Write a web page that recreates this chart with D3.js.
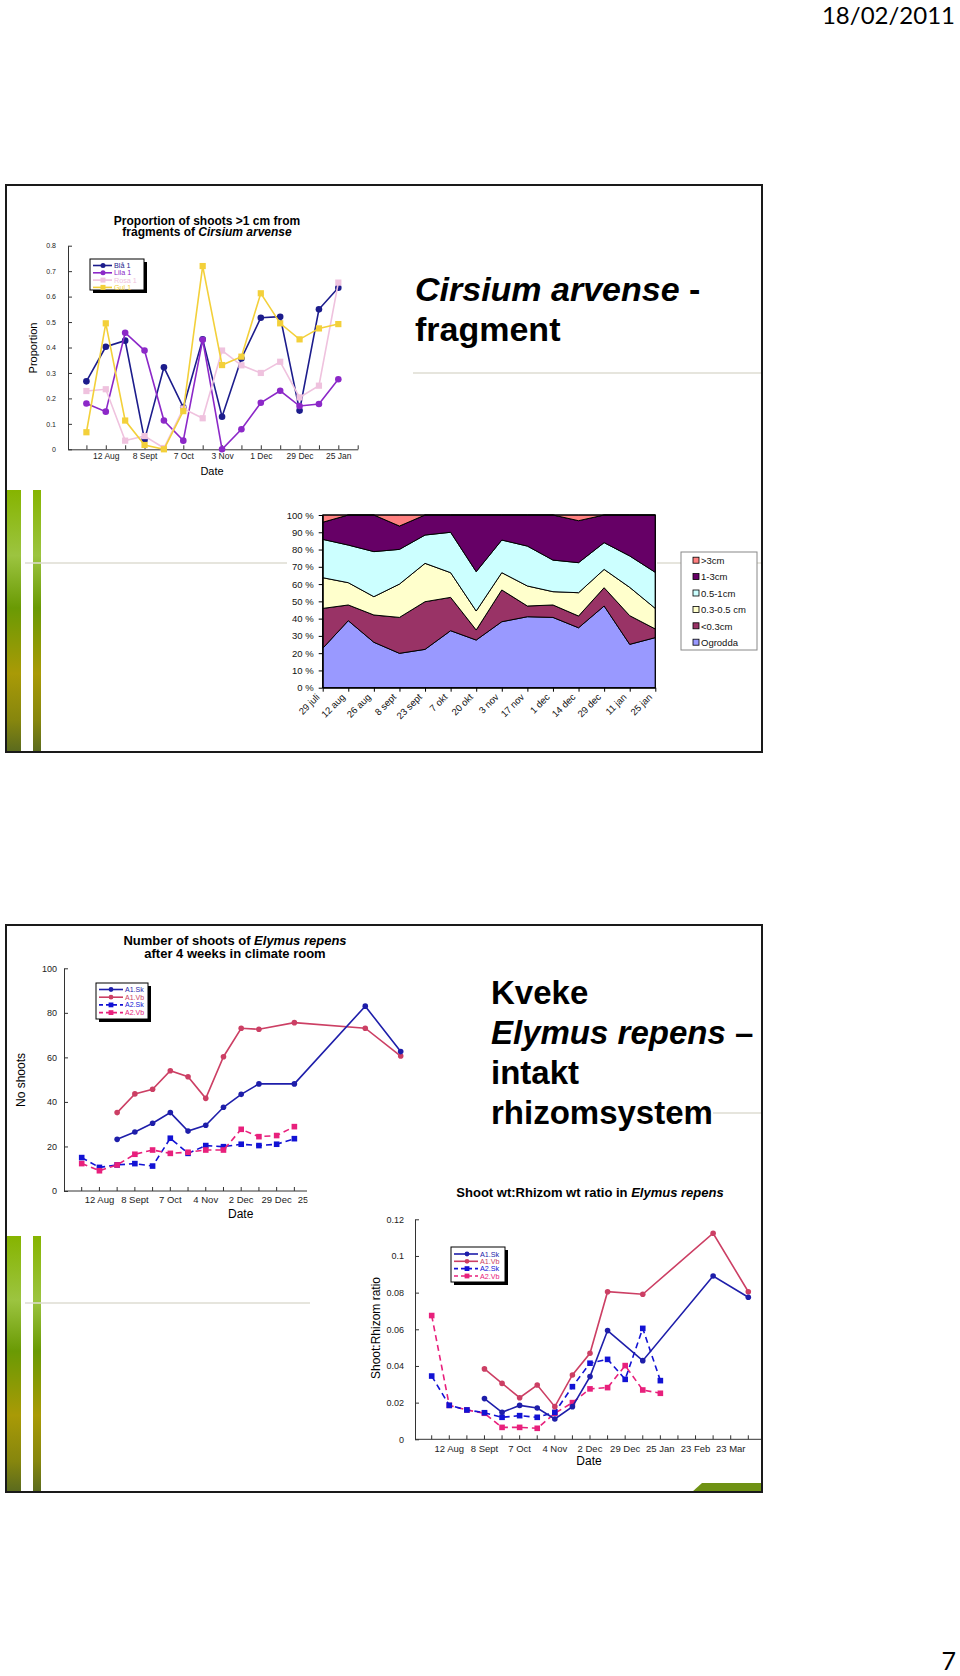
<!DOCTYPE html>
<html><head><meta charset="utf-8">
<script src="https://cdn.jsdelivr.net/npm/d3@7"></script>
<style>
body{margin:0;background:#fff}
svg{display:block}
text{font-family:"Liberation Sans",Arial,sans-serif}
</style>
</head><body>
<svg id="c" width="960" height="1676"></svg>
<script>
// ---------- Page text ----------
const headerDate = "18/02/2011";
const pageNumber = "7";

// ---------- Chart A: Proportion of shoots >1 cm (Cirsium arvense) ----------
const propNames = ["Blå 1", "Lila 1", "Rosa 1", "Gul 1"];
const propBla  = [0.267,0.403,0.427,0.037,0.322,0.165,0.432,0.128,0.357,0.517,0.521,0.152,0.550,0.635];
const propLila = [0.180,0.148,0.458,0.388,0.113,0.034,0.430,0.000,0.079,0.183,0.230,0.170,0.178,0.275];
const propRosa = [0.229,0.236,0.034,0.052,0.005,0.160,0.122,0.388,0.330,0.300,0.344,0.204,0.250,0.655];
const propGul  = [0.067,0.495,0.113,0.017,0.000,0.150,0.720,0.331,0.364,0.613,0.495,0.432,0.475,0.492];
const propXLabels = ["","12 Aug","","8 Sept","","7 Oct","","3 Nov","","1 Dec","","29 Dec","","25 Jan",""];
const propYTicks = [0,0.1,0.2,0.3,0.4,0.5,0.6,0.7,0.8];
const propYLabels = ["0","0.1","0.2","0.3","0.4","0.5","0.6","0.7","0.8"];

// ---------- Chart B: 100% stacked area ----------
const areaDates = ["29 juli","12 aug","26 aug","8 sept","23 sept","7 okt","20 okt","3 nov","17 nov","1 dec","14 dec","29 dec","11 jan","25 jan"];
const areaKeys = ["Ogrodda","<0.3cm","0.3-0.5 cm","0.5-1cm","1-3cm",">3cm"];
const areaOgrodda = [22.8,38.8,26.3,19.9,22.2,33.0,27.6,38.2,41.1,40.7,34.7,47.3,25.1,29.0];
const areaLt03    = [23.1, 9.1,15.8,20.8,27.6,19.3, 5.8,18.4, 6.2, 7.2, 6.8,10.6,16.6, 5.0];
const area03to05  = [17.8,12.9,10.6,19.3,22.2,14.3,11.0,10.0,11.6, 7.7,13.5,10.6,16.4,11.9];
const area05to1   = [22.2,21.8,26.1,20.1,16.4,23.4,22.8,18.9,23.1,18.3,17.4,15.5,18.2,20.9];
const area1to3    = [ 9.9,17.4,21.2,13.5,11.6,10.0,32.8,14.5,18.0,26.1,24.3,16.0,23.7,33.2];
const areaGt3     = [ 4.2, 0.0, 0.0, 6.4, 0.0, 0.0, 0.0, 0.0, 0.0, 0.0, 3.3, 0.0, 0.0, 0.0];
const areaYTicks = [0,10,20,30,40,50,60,70,80,90,100];

// ---------- Chart C: Number of shoots of Elymus repens ----------
const elyNames = ["A1.Sk","A1.Vb","A2.Sk","A2.Vb"];
const shootsA1Sk = [null,null,23.2,26.5,30.4,35.2,26.9,29.5,37.6,43.4,48.1,null,48.1,null,null,null,83.0,null,62.6];
const shootsA1Vb = [null,null,35.2,43.6,45.7,54.0,51.3,41.6,60.3,73.1,72.6,null,75.6,null,null,null,73.1,null,60.6];
const shootsA2Sk = [15.0,10.6,11.7,12.3,11.2,23.7,16.9,20.4,19.9,21.0,20.4,21.0,23.5,null,null,null,null,null,null];
const shootsA2Vb = [12.3, 9.1,11.7,16.5,18.4,16.9,17.4,18.4,18.4,27.7,24.4,24.9,28.9,null,null,null,null,null,null];
const shootsXLabels = ["","12 Aug","","8 Sept","","7 Oct","","4 Nov","","2 Dec","","29 Dec","","25 Jan"];
const shootsYTicks = [0,20,40,60,80,100];

// ---------- Chart D: Shoot wt:Rhizom wt ratio ----------
const ratioA1Sk = [null,null,null,0.0222,0.0147,0.0185,0.0171,0.0111,0.0178,0.0342,0.0593,null,0.0429,null,null,null,0.0891,null,0.0775];
const ratioA1Vb = [null,null,null,0.0384,0.0305,0.0227,0.0296,0.0178,0.0351,0.0469,0.0805,null,0.0791,null,null,null,0.1124,null,0.0805];
const ratioA2Sk = [0.0345,0.0185,0.0160,0.0145,0.0120,0.0129,0.0120,0.0147,0.0287,0.0415,0.0436,0.0327,0.0605,0.0320,null,null,null,null,null];
const ratioA2Vb = [0.0675,0.0185,0.0160,0.0142,0.0065,0.0065,0.0060,0.0142,0.0200,0.0275,0.0282,0.0402,0.0269,0.0251,null,null,null,null,null];
const ratioXLabels = ["","12 Aug","","8 Sept","","7 Oct","","4 Nov","","2 Dec","","29 Dec","","25 Jan","","23 Feb","","23 Mar",""];
const ratioYTicks = [0,0.02,0.04,0.06,0.08,0.1,0.12];
const ratioYLabels = ["0","0.02","0.04","0.06","0.08","0.1","0.12"];

// =====================================================================
const svg = d3.select("#c");
const defs = svg.append("defs");
const grad = defs.append("linearGradient").attr("id","grn").attr("x1",0).attr("y1",0).attr("x2",0).attr("y2",1);
[[0,"#86b400"],[0.25,"#9cc440"],[0.45,"#6a9a04"],[0.7,"#a99a06"],[0.88,"#86860e"],[1,"#5a6a1e"]]
  .forEach(s => grad.append("stop").attr("offset",s[0]).attr("stop-color",s[1]));

// header / footer
svg.append("text").attr("x",955).attr("y",24).attr("text-anchor","end")
  .style("font-family","Lato, 'Open Sans', sans-serif").style("font-size","24px").text(headerDate);
svg.append("text").attr("x",956).attr("y",1670).attr("text-anchor","end")
  .style("font-family","Lato, 'Open Sans', sans-serif").style("font-size","25px").text(pageNumber);

// slide decorations
function slideDecor(top, barTop) {
  const bottom = top + 567;
  svg.append("rect").attr("x",7).attr("y",barTop).attr("width",14).attr("height",bottom-barTop).attr("fill","url(#grn)");
  svg.append("rect").attr("x",33).attr("y",barTop).attr("width",8).attr("height",bottom-barTop).attr("fill","url(#grn)");
}
slideDecor(185, 490);
slideDecor(925, 1236);
// faint rules
const faint = "#dedcd2";
svg.append("line").attr("x1",25).attr("x2",762).attr("y1",563).attr("y2",563).attr("stroke",faint).attr("stroke-width",1.5);
svg.append("line").attr("x1",413).attr("x2",762).attr("y1",373).attr("y2",373).attr("stroke",faint).attr("stroke-width",1.5);
svg.append("line").attr("x1",25).attr("x2",310).attr("y1",1303).attr("y2",1303).attr("stroke",faint).attr("stroke-width",1.5);
svg.append("line").attr("x1",713).attr("x2",762).attr("y1",1113).attr("y2",1113).attr("stroke",faint).attr("stroke-width",1.5);
// green corner on slide 2
svg.append("path").attr("d","M702,1483 L762,1483 L762,1492 L692,1492 Z").attr("fill","#6f9214");

// slide titles
const t1 = svg.append("text").attr("x",415).attr("y",301).style("font-size","34px").style("font-weight","bold");
t1.append("tspan").style("font-style","italic").text("Cirsium arvense");
t1.append("tspan").text(" -");
svg.append("text").attr("x",415).attr("y",341).style("font-size","34px").style("font-weight","bold").text("fragment");

const t2lines = [["Kveke",false],["Elymus repens",true],["intakt",false],["rhizomsystem",false]];
t2lines.forEach((l,k) => {
  const t = svg.append("text").attr("x",491).attr("y",1004 + 40*k).style("font-size","33px").style("font-weight","bold");
  t.append("tspan").style("font-style", l[1] ? "italic" : "normal").text(l[0]);
  if (l[1]) t.append("tspan").text(" –");
});

// helpers
function drawSeries(g, x, y, vals, color, shape, dash, lw, r) {
  const pts = vals.map((v,i)=>({i, v})).filter(d => d.v != null);
  g.append("path").datum(pts).attr("fill","none").attr("stroke",color).attr("stroke-width",lw)
    .attr("stroke-dasharray", dash || null)
    .attr("d", d3.line().x(d=>x(d.i)).y(d=>y(d.v)));
  if (shape === "circle") {
    g.selectAll(null).data(pts).join("circle").attr("cx",d=>x(d.i)).attr("cy",d=>y(d.v)).attr("r",r).attr("fill",color);
  } else {
    g.selectAll(null).data(pts).join("rect").attr("x",d=>x(d.i)-r).attr("y",d=>y(d.v)-r)
      .attr("width",2*r).attr("height",2*r).attr("fill",color);
  }
}
function legendBox(g, bx, by, bw, bh, items, lx1, lx2, mx, tx, ys, fs, r) {
  g.append("rect").attr("x",bx+3).attr("y",by+3).attr("width",bw).attr("height",bh).attr("fill","#000");
  g.append("rect").attr("x",bx).attr("y",by).attr("width",bw).attr("height",bh).attr("fill","#fff").attr("stroke","#000").attr("stroke-width",1);
  items.forEach((it,k) => {
    const yy = ys[k];
    g.append("line").attr("x1",lx1).attr("x2",lx2).attr("y1",yy).attr("y2",yy).attr("stroke",it.color)
      .attr("stroke-width",1.6).attr("stroke-dasharray", it.dash || null);
    if (it.shape === "circle") g.append("circle").attr("cx",mx).attr("cy",yy).attr("r",r).attr("fill",it.color);
    else g.append("rect").attr("x",mx-r).attr("y",yy-r).attr("width",2*r).attr("height",2*r).attr("fill",it.color);
    g.append("text").attr("x",tx).attr("y",yy+fs*0.35).style("font-size",fs+"px").attr("fill",it.color).text(it.name);
  });
}

// ===================== Chart A =====================
{
  const g = svg.append("g");
  const x = d3.scaleLinear().domain([-0.95, 14]).range([68, 357.7]);
  const y = d3.scaleLinear().domain([0, 0.8]).range([449.3, 245.7]);
  const tt = g.append("text").attr("x",207).attr("text-anchor","middle").style("font-size","12px").style("font-weight","bold");
  tt.append("tspan").attr("x",207).attr("y",224.5).text("Proportion of shoots >1 cm from");
  const l2 = tt.append("tspan").attr("x",207).attr("y",236);
  l2.append("tspan").text("fragments of ");
  l2.append("tspan").style("font-style","italic").text("Cirsium arvense");

  const ya = g.append("g").attr("transform","translate(68,0)")
    .call(d3.axisLeft(y).tickValues(propYTicks).tickFormat((d,i)=>propYLabels[i]).tickSizeInner(-4).tickSizeOuter(0).tickPadding(12));
  ya.selectAll("text").style("font-size","7px").attr("fill","#222");
  ya.select(".domain").attr("stroke","#333");
  ya.selectAll(".tick line").attr("stroke","#333");
  const xa = g.append("g").attr("transform","translate(0,449.3)")
    .call(d3.axisBottom(x).tickValues(d3.range(15)).tickFormat(i=>propXLabels[i]).tickSizeInner(-4).tickSizeOuter(0).tickPadding(4));
  xa.selectAll("text").style("font-size","8.5px").attr("fill","#222");
  xa.select(".domain").attr("stroke","#333");
  xa.selectAll(".tick line").attr("stroke","#333");
  g.append("text").attr("x",212).attr("y",475).attr("text-anchor","middle").style("font-size","11px").text("Date");
  g.append("text").attr("transform","translate(37,348) rotate(-90)").attr("text-anchor","middle").style("font-size","11px").text("Proportion");

  const cols = ["#1c1c8c","#8c28c8","#efc2de","#f3d03a"];
  drawSeries(g, x, y, propBla,  cols[0], "circle", null, 1.6, 3.3);
  drawSeries(g, x, y, propLila, cols[1], "circle", null, 1.6, 3.3);
  drawSeries(g, x, y, propRosa, cols[2], "square", null, 1.6, 3.1);
  drawSeries(g, x, y, propGul,  cols[3], "square", null, 1.6, 3.1);
  legendBox(g, 90, 259, 54, 31,
    propNames.map((n,k)=>({name:n, color:cols[k], shape: k<2 ? "circle":"square"})),
    93, 112, 103, 114, [265.5, 272.8, 280.1, 287.4], 7.2, 2.5);
}

// ===================== Chart B =====================
{
  const g = svg.append("g");
  g.append("rect").attr("x",287).attr("y",500).attr("width",370).attr("height",240).attr("fill","#fff");
  const x = d3.scalePoint().domain(areaDates).range([322.7, 655.3]);
  const y = d3.scaleLinear().domain([0,100]).range([687.7, 515]);
  const cols = {"Ogrodda":"#9999ff","<0.3cm":"#993366","0.3-0.5 cm":"#ffffcc","0.5-1cm":"#ccffff","1-3cm":"#660066",">3cm":"#ff8080"};
  const arrs = [areaOgrodda, areaLt03, area03to05, area05to1, area1to3, areaGt3];
  const rows = areaDates.map((d,i) => {
    const r = {date:d};
    areaKeys.forEach((k,j) => r[k] = arrs[j][i]);
    return r;
  });
  const stacked = d3.stack().keys(areaKeys)(rows);
  const area = d3.area().x(d=>x(d.data.date)).y0(d=>y(d[0])).y1(d=>y(d[1]));
  g.selectAll(null).data(stacked).join("path").attr("d",area)
    .attr("fill",d=>cols[d.key]).attr("stroke","#000").attr("stroke-width",1);
  g.append("rect").attr("x",322.7).attr("y",515).attr("width",655.3-322.7).attr("height",687.7-515)
    .attr("fill","none").attr("stroke","#000").attr("stroke-width",1);
  const ya = g.append("g").attr("transform","translate(322.7,0)")
    .call(d3.axisLeft(y).tickValues(areaYTicks).tickFormat(d=>d+" %").tickSizeInner(4).tickSizeOuter(0).tickPadding(5));
  ya.selectAll("text").style("font-size","9.5px").attr("fill","#111");
  const xa = g.append("g").attr("transform","translate(0,687.7)")
    .call(d3.axisBottom(x).tickSizeInner(4).tickSizeOuter(0).tickPadding(3));
  xa.selectAll("text").style("font-size","9.5px").attr("fill","#111")
    .attr("text-anchor","end").attr("dy",null).attr("y",0)
    .attr("transform","translate(-3,10) rotate(-45)");
  // legend
  g.append("rect").attr("x",681).attr("y",552).attr("width",76).attr("height",98).attr("fill","#fff").attr("stroke","#888").attr("stroke-width",1);
  const legOrder = areaKeys.slice().reverse();
  legOrder.forEach((k,i) => {
    const yy = 560.7 + i*16.4;
    g.append("rect").attr("x",693).attr("y",yy-3.5).attr("width",6).attr("height",6).attr("fill",cols[k]).attr("stroke","#000").attr("stroke-width",0.8);
    g.append("text").attr("x",701).attr("y",yy+3.2).style("font-size","9.5px").attr("fill","#111").text(k);
  });
}

// ===================== Chart C =====================
const elyCols = ["#1e1eaa","#cc3f64","#1212d4","#e8207c"];
{
  const g = svg.append("g");
  const x = d3.scaleLinear().domain([0,18]).range([81.7, 400.7]);
  const y = d3.scaleLinear().domain([0,100]).range([1191, 968.3]);
  const tt = g.append("text").attr("text-anchor","middle").style("font-size","13px").style("font-weight","bold");
  const l1 = tt.append("tspan").attr("x",235).attr("y",945);
  l1.append("tspan").text("Number of shoots of ");
  l1.append("tspan").style("font-style","italic").text("Elymus repens");
  tt.append("tspan").attr("x",235).attr("y",957.8).text("after 4 weeks in climate room");

  const ya = g.append("g").attr("transform","translate(64,0)")
    .call(d3.axisLeft(y).tickValues(shootsYTicks).tickSizeInner(-4).tickSizeOuter(0).tickPadding(7));
  ya.selectAll("text").style("font-size","9px").attr("fill","#222");
  ya.select(".domain").attr("stroke","#333");
  ya.selectAll(".tick line").attr("stroke","#333");
  // x axis (drawn from scale, cut at 307)
  g.append("line").attr("x1",x(-1)).attr("x2",307).attr("y1",1191).attr("y2",1191).attr("stroke","#333");
  g.selectAll(null).data(d3.range(13)).join("line").attr("x1",d=>x(d)).attr("x2",d=>x(d))
    .attr("y1",1191).attr("y2",1187).attr("stroke","#333");
  defs.append("clipPath").attr("id","clipC").append("rect").attr("x",40).attr("y",1190).attr("width",267.5).attr("height",20);
  g.append("g").attr("clip-path","url(#clipC)").selectAll(null)
    .data(shootsXLabels.map((l,i)=>({l,i})).filter(d=>d.l)).join("text")
    .attr("x",d=>x(d.i)).attr("y",1203).attr("text-anchor","middle").style("font-size","9.5px").attr("fill","#222").text(d=>d.l);
  g.append("text").attr("x",240.7).attr("y",1218).attr("text-anchor","middle").style("font-size","12px").text("Date");
  g.append("text").attr("transform","translate(25,1080) rotate(-90)").attr("text-anchor","middle").style("font-size","12px").text("No shoots");

  drawSeries(g, x, y, shootsA2Sk, elyCols[2], "square", "6,4", 1.6, 2.8);
  drawSeries(g, x, y, shootsA2Vb, elyCols[3], "square", "6,4", 1.6, 2.8);
  drawSeries(g, x, y, shootsA1Vb, elyCols[1], "circle", null, 1.6, 2.8);
  drawSeries(g, x, y, shootsA1Sk, elyCols[0], "circle", null, 1.6, 2.8);
  legendBox(g, 96, 983, 52, 36,
    elyNames.map((n,k)=>({name:n, color:elyCols[k], shape:k<2?"circle":"square", dash:k<2?null:"4,3"})),
    99, 123, 111, 125, [989.5, 997.2, 1004.9, 1012.6], 7, 2.4);
}

// ===================== Chart D =====================
{
  const g = svg.append("g");
  const x = d3.scaleLinear().domain([0,18]).range([431.7, 748.3]);
  const y = d3.scaleLinear().domain([0,0.12]).range([1439.3, 1219.3]);
  const tt = g.append("text").attr("x",590).attr("y",1196.5).attr("text-anchor","middle").style("font-size","13px").style("font-weight","bold");
  tt.append("tspan").text("Shoot wt:Rhizom wt ratio in ");
  tt.append("tspan").style("font-style","italic").text("Elymus repens");

  const ya = g.append("g").attr("transform","translate(415,0)")
    .call(d3.axisLeft(y).tickValues(ratioYTicks).tickFormat((d,i)=>ratioYLabels[i]).tickSizeInner(-4).tickSizeOuter(0).tickPadding(11));
  ya.selectAll("text").style("font-size","9px").attr("fill","#222");
  ya.select(".domain").attr("stroke","#333");
  ya.selectAll(".tick line").attr("stroke","#333");
  g.append("line").attr("x1",415).attr("x2",761).attr("y1",1439.3).attr("y2",1439.3).attr("stroke","#333");
  g.selectAll(null).data(d3.range(19)).join("line").attr("x1",d=>x(d)).attr("x2",d=>x(d))
    .attr("y1",1439.3).attr("y2",1435.3).attr("stroke","#333");
  g.selectAll(null).data(ratioXLabels.map((l,i)=>({l,i})).filter(d=>d.l)).join("text")
    .attr("x",d=>x(d.i)).attr("y",1451.5).attr("text-anchor","middle").style("font-size","9.5px").attr("fill","#222").text(d=>d.l);
  g.append("text").attr("x",589).attr("y",1464.5).attr("text-anchor","middle").style("font-size","12px").text("Date");
  g.append("text").attr("transform","translate(380,1328) rotate(-90)").attr("text-anchor","middle").style("font-size","12px").text("Shoot:Rhizom ratio");

  drawSeries(g, x, y, ratioA2Vb, elyCols[3], "square", "6,4", 1.6, 2.8);
  drawSeries(g, x, y, ratioA2Sk, elyCols[2], "square", "6,4", 1.6, 2.8);
  drawSeries(g, x, y, ratioA1Vb, elyCols[1], "circle", null, 1.6, 2.8);
  drawSeries(g, x, y, ratioA1Sk, elyCols[0], "circle", null, 1.6, 2.8);
  legendBox(g, 451, 1247, 54, 35,
    elyNames.map((n,k)=>({name:n, color:elyCols[k], shape:k<2?"circle":"square", dash:k<2?null:"4,3"})),
    454, 478, 467, 480, [1254, 1261.3, 1268.6, 1276], 7.2, 2.4);
}

// slide frames
svg.append("rect").attr("x",6).attr("y",185).attr("width",756).attr("height",567).attr("fill","none").attr("stroke","#1a1a1a").attr("stroke-width",2);
svg.append("rect").attr("x",6).attr("y",925).attr("width",756).attr("height",567).attr("fill","none").attr("stroke","#1a1a1a").attr("stroke-width",2);
</script>
</body></html>
